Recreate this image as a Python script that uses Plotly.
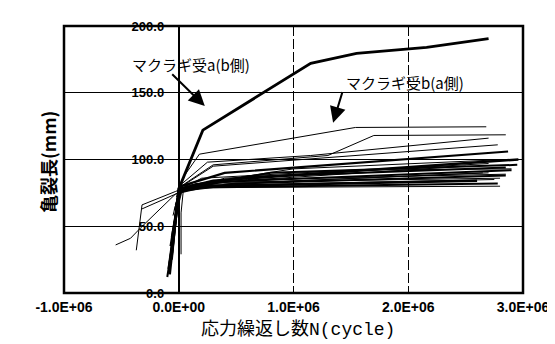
import plotly.graph_objects as go

# ---- data ----
x_tick_vals = [-1000000, 0, 1000000, 2000000, 3000000]
x_tick_text = ["-1.0E+06", "0.0E+00", "1.0E+06", "2.0E+06", "3.0E+06"]
y_tick_vals = [0, 50, 100, 150, 200]
y_tick_text = ["0.0", "50.0", "100.0", "150.0", "200.0"]

# マクラギ受a(b側)
a_cycles = [-80000, 0, 210000, 1150000, 1550000, 2160000, 2700000]
a_length = [14, 78, 122, 172, 179.5, 184, 190.5]

# マクラギ受b(a側) : bundle of cracks
b_cycles = [
    [-20000, 50000, 180000, 1540000, 2680000],
    [-40000, 20000, 300000, 1300000, 1700000, 2850000],
    [-30000, 30000, 250000, 1150000, 2700000],
    [-50000, 10000, 300000, 2780000],
    [-60000, 20000, 400000, 2870000],
    [-70000, 10000, 300000, 2960000],
    [-30000, 30000, 1000000, 2850000],
    [-20000, 20000, 200000, 1500000, 2900000],
    [-80000, 0, 300000, 2900000],
    [-40000, 20000, 600000, 2850000],
    [-50000, 10000, 500000, 2850000],
    [-30000, 20000, 400000, 2800000],
    [-60000, 0, 200000, 2600000],
    [-20000, 30000, 500000, 2750000],
    [-90000, 0, 200000, 2780000],
    [-40000, 10000, 300000, 2800000],
    [-550000, -420000, -330000, -180000, -30000, 100000, 1000000, 2700000],
    [-370000, -320000, -30000, 150000, 2500000],
    [-320000, -30000, 200000, 2650000],
    [20000, 20000, 40000, 400000, 2700000],
    [-100000, -40000, 10000, 600000, 2850000],
    [-60000, 0, 800000, 2950000],
]
b_length = [
    [72, 88, 104, 124, 124.5],
    [62, 80, 96, 103, 118, 118.5],
    [66, 82, 98, 103, 116],
    [58, 79, 95, 111],
    [42, 80, 90, 106],
    [35, 78, 84, 100],
    [60, 80, 93, 100],
    [65, 78, 86, 92, 93],
    [22, 77, 83, 92],
    [50, 79, 85, 89],
    [45, 77, 82, 88],
    [55, 78, 83, 86],
    [30, 76, 80, 84],
    [60, 77, 81, 85],
    [18, 75, 79, 82],
    [48, 76, 79, 80],
    [36, 41, 49, 61.5, 74, 79, 84, 90],
    [32, 66, 76, 82, 95],
    [63, 74, 81, 90],
    [29, 60, 77, 86, 97],
    [12, 45, 78, 87, 94],
    [25, 78, 90, 96],
]
b_widths = [1, 1, 1, 1, 2.2, 2.5, 1, 1, 2, 1, 2, 1, 2.5, 1, 2, 1, 1, 1, 1, 1, 2, 2]

label_a = "マクラギ受a(b側)"
label_b = "マクラギ受b(a側)"

fig = go.Figure()
for xs, ys, w in zip(b_cycles, b_length, b_widths):
    fig.add_trace(go.Scatter(x=xs, y=ys, mode="lines",
                             line=dict(color="black", width=w), showlegend=False,
                             hoverinfo="skip"))
fig.add_trace(go.Scatter(x=a_cycles, y=a_length, mode="lines",
                         line=dict(color="black", width=2.8), showlegend=False))

tick_font = dict(family="Liberation Sans, Arial, sans-serif", color="black", weight="bold")

fig.update_layout(
    width=555, height=344,
    margin=dict(l=56, r=40, t=11, b=59),
    paper_bgcolor="white", plot_bgcolor="white",
    showlegend=False,
    xaxis=dict(
        range=[-1000000, 3000000],
        tickvals=x_tick_vals, ticktext=x_tick_text,
        tickfont=dict(size=14, **tick_font),
        showgrid=True, gridcolor="black", gridwidth=1, griddash="10px,3px",
        zeroline=True, zerolinecolor="black", zerolinewidth=1,
        showline=False, ticks="", ticklabelstandoff=4,
    ),
    yaxis=dict(
        range=[0, 200],
        tickvals=y_tick_vals, ticktext=y_tick_text,
        tickfont=dict(size=13, **tick_font),
        showgrid=True, gridcolor="black", gridwidth=1,
        zeroline=False,
        anchor="free", position=0.25,
        showline=True, linecolor="black", linewidth=1,
        ticks="", ticklabelstandoff=12,
    ),
    shapes=[dict(type="rect", xref="paper", yref="paper", x0=0, x1=1, y0=0, y1=1,
                 line=dict(color="black", width=2.5), layer="above")],
    annotations=[
        dict(text=label_a, x=105000, y=171, xref="x", yref="y", showarrow=False,
             font=dict(family="Noto Sans CJK JP", size=15, color="black")),
        dict(text=label_b, x=1970000, y=158, xref="x", yref="y", showarrow=False,
             font=dict(family="Noto Sans CJK JP", size=15, color="black")),
        dict(text="", x=227000, y=140, ax=-70000, ay=165, xref="x", yref="y",
             axref="x", ayref="y", showarrow=True, arrowhead=2, arrowsize=1.6,
             arrowwidth=2, arrowcolor="black"),
        dict(text="", x=1345000, y=127.5, ax=1430000, ay=151.6, xref="x", yref="y",
             axref="x", ayref="y", showarrow=True, arrowhead=2, arrowsize=1.6,
             arrowwidth=2, arrowcolor="black"),
        dict(text="亀裂長(mm)", x=-0.068, y=0.49, xref="paper", yref="paper",
             showarrow=False, textangle=-90,
             font=dict(family="Noto Sans CJK JP", size=18, color="black", weight="bold")),
        dict(text="応力繰返し数N(cycle)", x=0.51, y=-0.185, xref="paper", yref="paper",
             showarrow=False, yanchor="bottom",
             font=dict(family="Liberation Mono, Noto Sans CJK JP", size=18, color="black")),
    ],
)

fig.write_html("out.html")
